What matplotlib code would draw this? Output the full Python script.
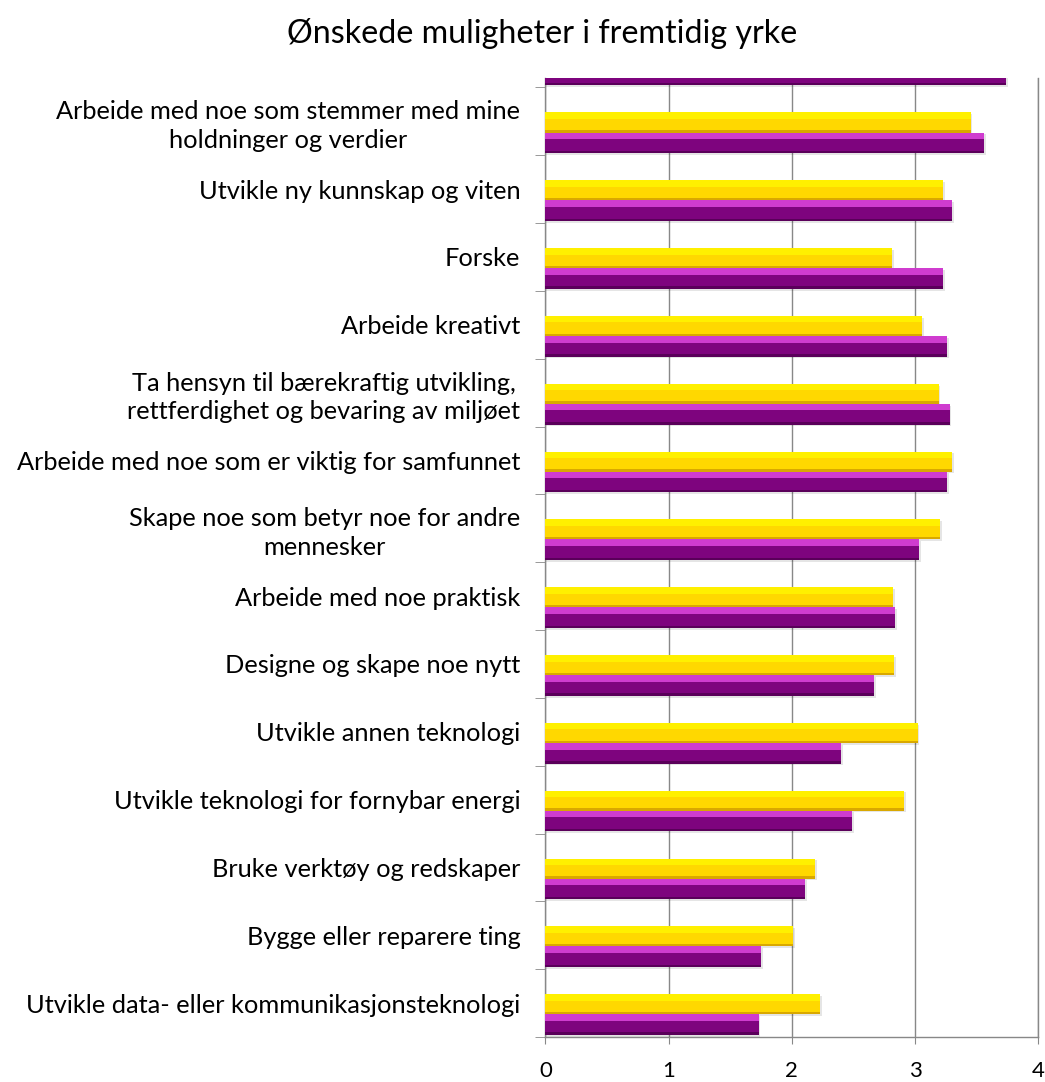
import numpy as np
import matplotlib
matplotlib.use("Agg")
import matplotlib.pyplot as plt

# Categories listed top to bottom as shown (first one is cut off at the top)
labels = [
    "",
    "Arbeide med noe som stemmer med mine\nholdninger og verdier",
    "Utvikle ny kunnskap og viten",
    "Forske",
    "Arbeide kreativt",
    "Ta hensyn til bærekraftig utvikling,\nrettferdighet og bevaring av miljøet",
    "Arbeide med noe som er viktig for samfunnet",
    "Skape noe som betyr noe for andre\nmennesker",
    "Arbeide med noe praktisk",
    "Designe og skape noe nytt",
    "Utvikle annen teknologi",
    "Utvikle teknologi for fornybar energi",
    "Bruke verktøy og redskaper",
    "Bygge eller reparere ting",
    "Utvikle data- eller kommunikasjonsteknologi",
]
yellow_vals = [np.nan, 3.45, 3.23, 2.81, 3.06, 3.19, 3.30, 3.20, 2.82, 2.83,
               3.02, 2.91, 2.19, 2.01, 2.23]
purple_vals = [3.74, 3.56, 3.30, 3.23, 3.26, 3.28, 3.26, 3.03, 2.84, 2.67,
               2.40, 2.49, 2.11, 1.75, 1.73]
x_ticks = [0, 1, 2, 3, 4]

plt.rcParams["font.family"] = ["Lato", "DejaVu Sans"]

n = len(labels)
pos = np.arange(n)[::-1].astype(float)  # top category gets highest position
yel = np.array(yellow_vals)
pur = np.array(purple_vals)

fig = plt.figure(figsize=(10.45, 10.82), dpi=100)
ax = fig.add_axes([0.522, 0.0416, 0.4716, 0.8864])

grid_c = "#888888"


def bevel_bar(y0, h, vals, body, light, dark):
    # soft shadow under the bar
    ax.barh(y0 - 0.025, vals + 0.015, height=h, align="edge",
            color="#000000", alpha=0.10, zorder=2, linewidth=0)
    ax.barh(y0, vals, height=h, align="edge", color=body, linewidth=0, zorder=3)
    ax.barh(y0 + h * 0.68, vals, height=h * 0.32, align="edge", color=light,
            linewidth=0, zorder=4)
    ax.barh(y0, vals, height=h * 0.12, align="edge", color=dark,
            linewidth=0, zorder=4)


bevel_bar(pos + 0.03, 0.305, pur, "#7e047e", "#cf3ccf", "#5a005a")
bevel_bar(pos + 0.335, 0.295, yel, "#ffd800", "#fff000", "#d9a800")

ax.set_xticks(x_ticks)
ax.set_xticklabels([str(t) for t in x_ticks], fontsize=16)
ax.xaxis.grid(True, color=grid_c, linewidth=1.0, zorder=0)
ax.set_axisbelow(True)

ax.set_yticks(pos + 0.5)
ax.set_yticklabels(labels, fontsize=18.3, linespacing=1.3)
ax.set_yticks(np.arange(0, n), minor=True)
ax.tick_params(axis="y", which="major", length=0, pad=18)
ax.tick_params(axis="y", which="minor", length=7, color=grid_c, direction="out")
ax.tick_params(axis="x", length=5, color=grid_c, pad=12)

for lab in ax.get_yticklabels():
    lab.set_multialignment("center")

# limits after the ticks, so the tick call does not widen them
ax.set_xlim(0, 4)
ax.set_ylim(0, 14.14)

ax.spines["top"].set_visible(False)
for side in ["left", "bottom", "right"]:
    ax.spines[side].set_color(grid_c)
    ax.spines[side].set_linewidth(1.0)

fig.text(0.519, 0.9695, "Ønskede muligheter i fremtidig yrke", ha="center",
         va="center", fontsize=23.2)

fig.savefig("out.png", dpi=100, facecolor="white")
